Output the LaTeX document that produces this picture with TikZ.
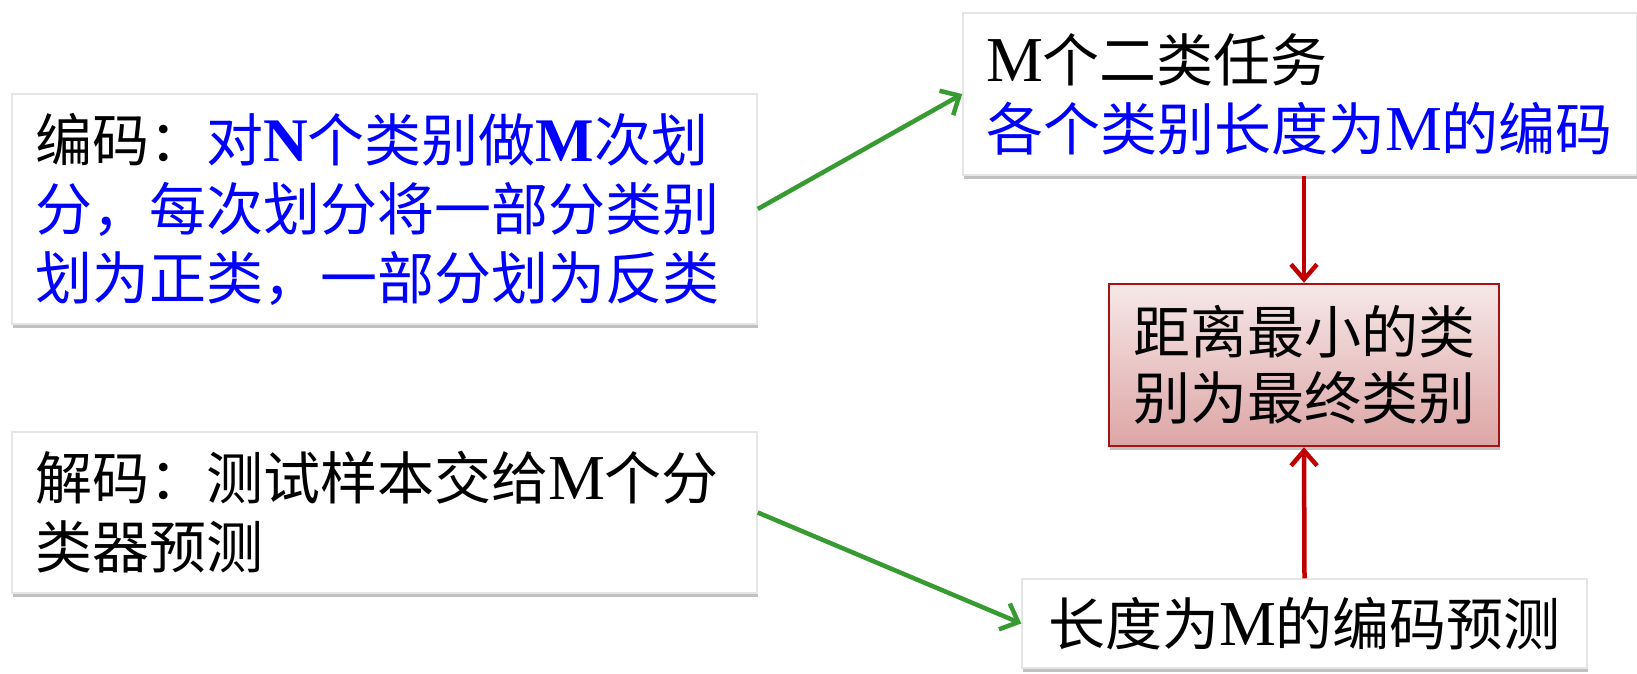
\documentclass[tikz,border=0pt]{standalone}
\usepackage{fontspec}
\setmainfont{Liberation Serif}
\newfontfamily\cjk{Noto Sans CJK SC}
\usetikzlibrary{arrows.meta,shadows}
\newcommand\ltn[1]{{\rmfamily\fontsize{64}{69}\selectfont #1}}
\newcommand\ltb[1]{{\rmfamily\bfseries\fontsize{62}{69}\selectfont #1}}
\definecolor{txtblue}{RGB}{0,0,255}
\definecolor{garr}{RGB}{55,155,50}
\definecolor{rarr}{RGB}{192,0,0}
\definecolor{rborder}{RGB}{165,20,20}
\definecolor{rtop}{RGB}{246,232,232}
\definecolor{rbot}{RGB}{221,165,165}
\tikzset{
  whitebox/.style={fill=white, draw=black!10, line width=1.5pt, inner xsep=23pt, inner ysep=0pt,
    drop shadow={shadow xshift=1pt, shadow yshift=-4pt, opacity=0.35, fill=black!70},
    font=\cjk\fontsize{57}{69}\selectfont},
  redbox/.style={draw=rborder, line width=2.5pt, top color=rtop, bottom color=rbot,
    drop shadow={shadow xshift=1pt, shadow yshift=-4pt, opacity=0.35, fill=black!70},
    inner sep=0pt, align=center, font=\cjk\fontsize{57}{66}\selectfont},
  garrow/.style={draw=garr, line width=4.5pt, -{Straight Barb[length=15pt,width=28pt]}},
  rarrow/.style={draw=rarr, line width=4.5pt, -{Straight Barb[length=15pt,width=26pt]}},
}
\begin{document}
\begin{tikzpicture}[x=1pt,y=1pt]
\useasboundingbox (0,0) rectangle (1637,-674);
\node[whitebox, minimum width=745pt, minimum height=230pt, text width=699pt, align=left]
  (A) at (384.5,-209) {编码：\textcolor{txtblue}{对\ltb{N}个类别做\ltb{M}次划\\分，每次划分将一部分类别\\划为正类，一部分划为反类}};
\node[whitebox, minimum width=745pt, minimum height=161pt, text width=699pt, align=left]
  (E) at (384.5,-512.5) {解码：测试样本交给\ltn{M}个分\\类器预测};
\node[whitebox, minimum width=674pt, minimum height=162pt, text width=628pt, align=left]
  (B) at (1300,-94) {\ltn{M}个二类任务\\\textcolor{txtblue}{各个类别长度为\ltn{M}的编码}};
\node[redbox, minimum width=390pt, minimum height=162pt]
  (C) at (1304,-365) {距离最小的类\\别为最终类别};
\node[whitebox, minimum width=565pt, minimum height=89pt, align=center]
  (D) at (1304.5,-623.5) {长度为\ltn{M}的编码预测};
\draw[garrow] (A.east) -- (B.west);
\draw[garrow] (E.east) -- (D.west);
\draw[rarrow] (C.north |- B.south) -- (C.north);
\draw[rarrow] (D.north) -- (C.south);
\end{tikzpicture}
\end{document}
